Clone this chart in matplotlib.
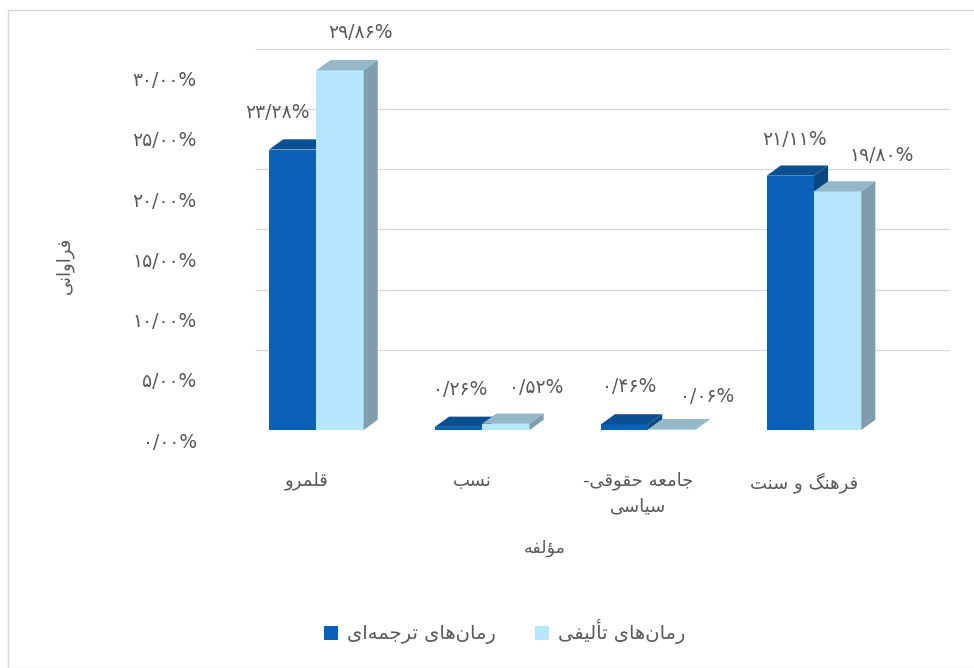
import matplotlib
matplotlib.use("Agg")
import matplotlib.pyplot as plt
import matplotlib.transforms as mtransforms
from matplotlib.patches import Polygon, Rectangle
import numpy as np

# data
categories = ["قلمرو", "نسب", "جامعه حقوقی-\nسیاسی", "فرهنگ و سنت"]
series_names = ["رمان\u200cهای ترجمه\u200cای", "رمان\u200cهای تألیفی"]
translated = [23.28, 0.26, 0.46, 21.11]
original = [29.86, 0.52, 0.06, 19.80]
yticks = [0, 5, 10, 15, 20, 25, 30]
ylabel = "فراوانی"
xlabel = "مؤلفه"

# --- minimal persian shaping (matplotlib has no RTL / joining support) ---
FORMS = {
    'ا': ('\uFE8D', '\uFE8E', None, None),
    'أ': ('\uFE83', '\uFE84', None, None),
    'ؤ': ('\uFE85', '\uFE86', None, None),
    'ب': ('\uFE8F', '\uFE90', '\uFE91', '\uFE92'),
    'ت': ('\uFE95', '\uFE96', '\uFE97', '\uFE98'),
    'ج': ('\uFE9D', '\uFE9E', '\uFE9F', '\uFEA0'),
    'ح': ('\uFEA1', '\uFEA2', '\uFEA3', '\uFEA4'),
    'ر': ('\uFEAD', '\uFEAE', None, None),
    'س': ('\uFEB1', '\uFEB2', '\uFEB3', '\uFEB4'),
    'ع': ('\uFEC9', '\uFECA', '\uFECB', '\uFECC'),
    'ف': ('\uFED1', '\uFED2', '\uFED3', '\uFED4'),
    'ق': ('\uFED5', '\uFED6', '\uFED7', '\uFED8'),
    'ل': ('\uFEDD', '\uFEDE', '\uFEDF', '\uFEE0'),
    'م': ('\uFEE1', '\uFEE2', '\uFEE3', '\uFEE4'),
    'ن': ('\uFEE5', '\uFEE6', '\uFEE7', '\uFEE8'),
    'ه': ('\uFEE9', '\uFEEA', '\uFEEB', '\uFEEC'),
    'و': ('\uFEED', '\uFEEE', None, None),
    'ی': ('\uFBFC', '\uFBFD', '\uFBFE', '\uFBFF'),
    'گ': ('\uFB92', '\uFB93', '\uFB94', '\uFB95'),
}
RIGHT_ONLY = set('اأؤرو')


def shape_line(s):
    out = []
    for i, c in enumerate(s):
        if c not in FORMS:
            if c != '\u200c':
                out.append(c)
            continue
        prev = s[i - 1] if i > 0 else ''
        nxt = s[i + 1] if i + 1 < len(s) else ''
        p = prev in FORMS and prev not in RIGHT_ONLY
        n = c not in RIGHT_ONLY and nxt in FORMS
        iso, fin, ini, med = FORMS[c]
        if p and n:
            out.append(med)
        elif p:
            out.append(fin)
        elif n:
            out.append(ini)
        else:
            out.append(iso)
    return ''.join(reversed(out))


def fa(s):
    return '\n'.join(shape_line(l) for l in s.split('\n'))


def fa_num(v):
    s = f"{v:.2f}%"
    return s.translate(str.maketrans('0123456789.', '۰۱۲۳۴۵۶۷۸۹/'))


plt.rcParams['font.family'] = ['DejaVu Sans']
txt = '#595959'

fig = plt.figure(figsize=(9.74, 6.68), dpi=100)
fig.patches.append(Rectangle((8 / 974, 0), 1, 1 - 10 / 668, transform=fig.transFigure,
                             fill=False, edgecolor='#d9d9d9', lw=1))
ax = fig.add_axes([255 / 974, 238 / 668, 695 / 974, 385.5 / 668])
ax.set_xlim(-0.31, 3.88)
ax.set_ylim(0, 32)

w = 0.285      # bar width
s = 0.06       # group shift
dx, dy = 0.085, 0.85   # bar depth
gdy = 1.66     # back wall offset

for v in yticks[1:]:
    ax.hlines(v + gdy, -0.31, 3.88, color='#d9d9d9', lw=0.9, zorder=0)

dark = dict(front='#0a62b8', top='#0a4f92', side='#094682')
light = dict(front='#b6e6fb', top='#93b8c7', side='#7f9dab')


def bar3d(x0, v, c, z):
    ax.add_patch(Rectangle((x0, 0), w, v, facecolor=c['front'], edgecolor='none', zorder=z))
    ax.add_patch(Polygon([(x0 + w, 0), (x0 + w, v), (x0 + w + dx, v + dy), (x0 + w + dx, dy)],
                         facecolor=c['side'], edgecolor='none', zorder=z))
    ax.add_patch(Polygon([(x0, v), (x0 + w, v), (x0 + w + dx, v + dy), (x0 + dx, v + dy)],
                         facecolor=c['top'], edgecolor='none', zorder=z))


dark_off = [(-15, 37), (2, 37), (5, 38), (4, 36)]
light_off = [(20, 38), (30, 36), (35, 33), (44, 36)]

x = np.arange(len(categories))
for i in x:
    bar3d(i + s - w, translated[i], dark, 2)
    bar3d(i + s, original[i], light, 3)
    ax.annotate(fa_num(translated[i]), (i + s - w / 2, translated[i]), xytext=dark_off[i],
                textcoords='offset pixels', ha='center', va='center', fontsize=13.5, color=txt, zorder=5)
    ax.annotate(fa_num(original[i]), (i + s + w / 2, original[i]), xytext=light_off[i],
                textcoords='offset pixels', ha='center', va='center', fontsize=13.5, color=txt, zorder=5)

ax.set_xticks(x)
ax.set_xticklabels([fa(c) for c in categories], fontsize=13, color=txt, linespacing=1.5)
ax.set_yticks(yticks)
ax.set_yticklabels([fa_num(v) for v in yticks], fontsize=13.5, color=txt)
ax.tick_params(axis='both', length=0)
ax.tick_params(axis='x', pad=30)
ax.tick_params(axis='y', pad=42)
shift = mtransforms.ScaledTranslation(0, -10 / 100, fig.dpi_scale_trans)
for lab in ax.get_yticklabels():
    lab.set_transform(lab.get_transform() + shift)
for sp in ax.spines.values():
    sp.set_visible(False)

fig.text(65 / 974, 1 - 265 / 668, fa(ylabel), rotation=90, ha='center', va='center',
         fontsize=13, color=txt)
fig.text(545 / 974, 1 - 548 / 668, fa(xlabel), ha='center', va='center', fontsize=12.5, color=txt)

handles = [Rectangle((0, 0), 1, 1, facecolor=dark['front']),
           Rectangle((0, 0), 1, 1, facecolor=light['front'])]
fig.legend(handles, [fa(n) for n in series_names], ncol=2, loc='center',
           bbox_to_anchor=(505 / 974, 1 - 632 / 668), frameon=False, fontsize=14,
           labelcolor=txt, handlelength=0.7, handleheight=0.7, handletextpad=0.5,
           columnspacing=2.0)

fig.savefig('out.png', dpi=100)
